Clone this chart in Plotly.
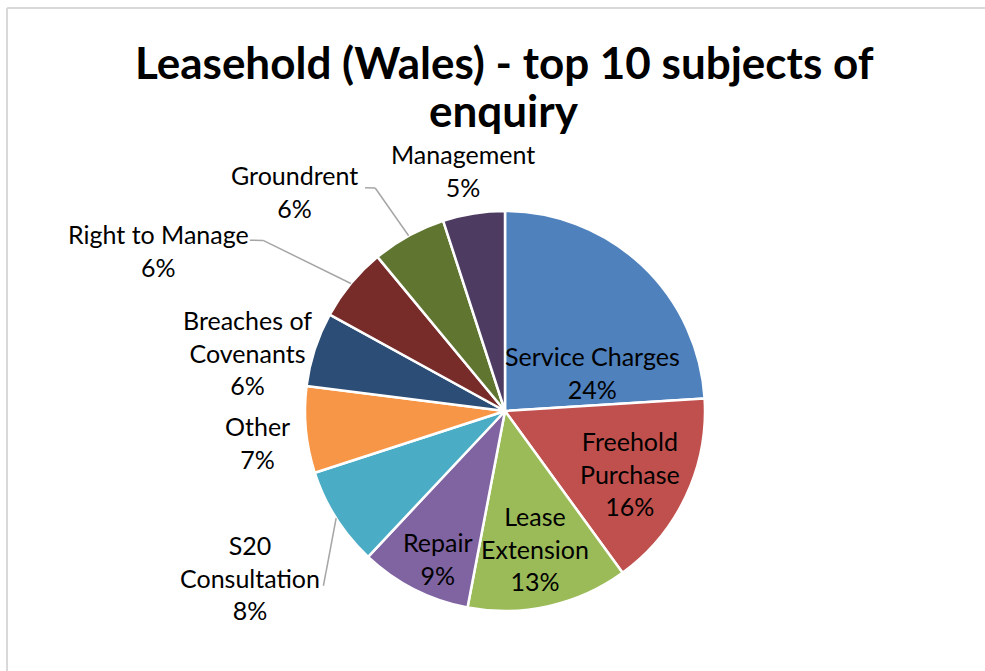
import math
import plotly.graph_objects as go

# ---- data ----
categories = ["Service Charges", "Freehold Purchase", "Lease Extension", "Repair",
              "S20 Consultation", "Other", "Breaches of Covenants", "Right to Manage",
              "Groundrent", "Management"]
values = [24, 16, 13, 9, 8, 7, 6, 6, 6, 5]
label_lines = ["Service Charges", "Freehold<br>Purchase", "Lease<br>Extension", "Repair",
               "S20<br>Consultation", "Other", "Breaches of<br>Covenants", "Right to Manage",
               "Groundrent", "Management"]
title_lines = ["Leasehold (Wales) - top 10 subjects of", "enquiry"]

# ---- style ----
colors = ["#4F81BD", "#C0504D", "#9BBB59", "#8064A2", "#4BACC6",
          "#F79646", "#2C4D75", "#772C2A", "#5F7530", "#4D3B62"]
W, H = 985, 671
CX, CY, R = 505, 411, 200
FONT = "Lato"
# label placement: (angle offset from slice middle in degrees, radius factor)
label_place = [(22.9, 0.48), (1.5, 0.70), (0.3, 0.706), (-2.5, 0.81), (-0.8, 1.524),
               (-1.8, 1.245), (-5.1, 1.32), (-14.7, 1.91), (-15.0, 1.52), (-0.9, 1.223)]
# leader lines: slice index -> list of polar points (angle deg, radius factor) after arc point
leaders = {
    4: [(226.1, 1.26)],
    7: [(305.2, 1.48), (303.8, 1.535)],
    8: [(329.8, 1.29), (327.9, 1.317)],
}
title_y = [62, 110]


def polar(angle_deg, rf):
    a = math.radians(angle_deg)
    px = CX + R * rf * math.sin(a)
    py = CY - R * rf * math.cos(a)
    return px / W, 1 - py / H


total = sum(values)
mids = []
cum = 0
for v in values:
    mids.append((cum + v / 2) / total * 360)
    cum += v

fig = go.Figure(go.Pie(
    labels=categories, values=values, sort=False, direction="clockwise", rotation=0,
    marker=dict(colors=colors, line=dict(color="white", width=2.5)),
    textinfo="none", hoverinfo="label+percent", showlegend=False,
    domain=dict(x=[(CX - R) / W, (CX + R) / W], y=[1 - (CY + R) / H, 1 - (CY - R) / H]),
))

annotations = []
for i, (txt, v) in enumerate(zip(label_lines, values)):
    d_ang, rf = label_place[i]
    x, y = polar(mids[i] + d_ang, rf)
    pct = round(v / total * 100)
    annotations.append(dict(
        x=x, y=y, xref="paper", yref="paper", showarrow=False,
        text=f"{txt}<br>{pct}%", align="center",
        font=dict(family=FONT, size=25, color="#000000"),
        xanchor="center", yanchor="middle",
    ))

for line, ty in zip(title_lines, title_y):
    annotations.append(dict(
        x=504 / W, y=1 - ty / H, xref="paper", yref="paper", showarrow=False,
        text=f"<b>{line}</b>",
        font=dict(family=FONT, size=44, color="#000000"), align="center",
        xanchor="center", yanchor="middle",
    ))

shapes = []
for i, pts in leaders.items():
    prev = polar(mids[i], 1.0)
    for ang, rf in pts:
        nxt = polar(ang, rf)
        shapes.append(dict(type="line", xref="paper", yref="paper",
                           x0=prev[0], y0=prev[1], x1=nxt[0], y1=nxt[1],
                           line=dict(color="#A6A6A6", width=1.5)))
        prev = nxt

# chart frame (top and left edges visible)
shapes.append(dict(type="line", xref="paper", yref="paper", x0=7 / W, y0=1 - 8 / H,
                   x1=1.02, y1=1 - 8 / H, line=dict(color="#D9D9D9", width=2)))
shapes.append(dict(type="line", xref="paper", yref="paper", x0=7 / W, y0=1 - 8 / H,
                   x1=7 / W, y1=-0.02, line=dict(color="#D9D9D9", width=2)))

fig.update_layout(
    width=W, height=H, margin=dict(l=0, r=0, t=0, b=0),
    paper_bgcolor="white", plot_bgcolor="white",
    annotations=annotations, shapes=shapes,
)

fig.write_html("out.html")
